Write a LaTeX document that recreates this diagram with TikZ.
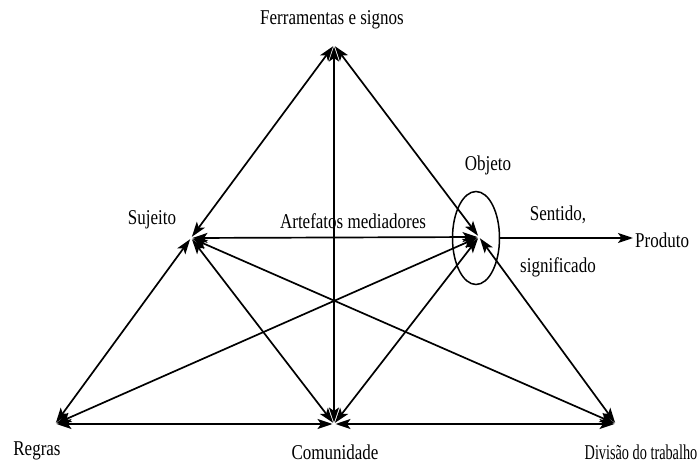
\documentclass[tikz,border=0pt]{standalone}
\usepackage{fontspec}
\setmainfont{Liberation Serif}
\usetikzlibrary{arrows.meta,shapes.geometric}
\begin{document}
\begin{tikzpicture}[x=1pt,y=-1pt,
  link/.style={line width=1.7pt,{Stealth[length=15pt,width=10pt,inset=3.5pt]}-{Stealth[length=15pt,width=10pt,inset=3.5pt]},shorten <=1.5pt,shorten >=1.5pt},
  oneway/.style={line width=1.8pt,-{Stealth[length=15pt,width=10pt,inset=3.5pt]}},
  lbl/.style={inner sep=0pt,font=\fontsize{17}{20}\selectfont}]
  \useasboundingbox (0,0) rectangle (697,465);
  % activity system vertices
  \coordinate (F) at (334,45);
  \coordinate (S) at (191,238);
  \coordinate (O) at (479,237);
  \coordinate (R) at (55,424);
  \coordinate (C) at (334,424);
  \coordinate (D) at (616,424);
  % object ellipse
  \node[ellipse,draw,line width=1.5pt,minimum width=47pt,minimum height=93pt,inner sep=0pt] (obj) at (476,238) {};
  % labels
  \node[lbl] (lf) at (332,20) {\scalebox{1}[1.24]{Ferramentas e signos}};
  \node[lbl] (ls) at (152,220) {\scalebox{1}[1.24]{Sujeito}};
  \node[lbl] (la) at (353,221) {\scalebox{1}[1.24]{Artefatos mediadores}};
  \node[lbl] (lo) at (488,165) {\scalebox{1}[1.24]{Objeto}};
  \node[lbl] (lsen) at (558,215) {\scalebox{1}[1.24]{Sentido,}};
  \node[lbl] (lsig) at (558,267) {\scalebox{1}[1.24]{significado}};
  \node[lbl,anchor=west] (prod) at (635,240) {\scalebox{1}[1.24]{Produto}};
  \node[lbl] (lr) at (37,451) {\scalebox{1}[1.24]{Regras}};
  \node[lbl] (lc) at (335,452) {\scalebox{1}[1.24]{Comunidade}};
  \node[lbl] (ld) at (641,452) {\scalebox{0.84}[1.24]{Divisão do trabalho}};
  % mediation links
  \draw[link] (S) -- (F);
  \draw[link] (C) -- (F);
  \draw[link] (O) -- (F);
  \draw[link] (S) -- (O);
  \draw[link] (S) -- (R);
  \draw[link] (S) -- (C);
  \draw[link] (S) -- (D);
  \draw[link] (R) -- (O);
  \draw[link] (C) -- (O);
  \draw[link] (D) -- (O);
  \draw[link] (R) -- (C);
  \draw[link] (C) -- (D);
  % outcome
  \draw[oneway,shorten >=2pt] (obj.east) -- (obj.east -| prod.west);
\end{tikzpicture}
\end{document}
